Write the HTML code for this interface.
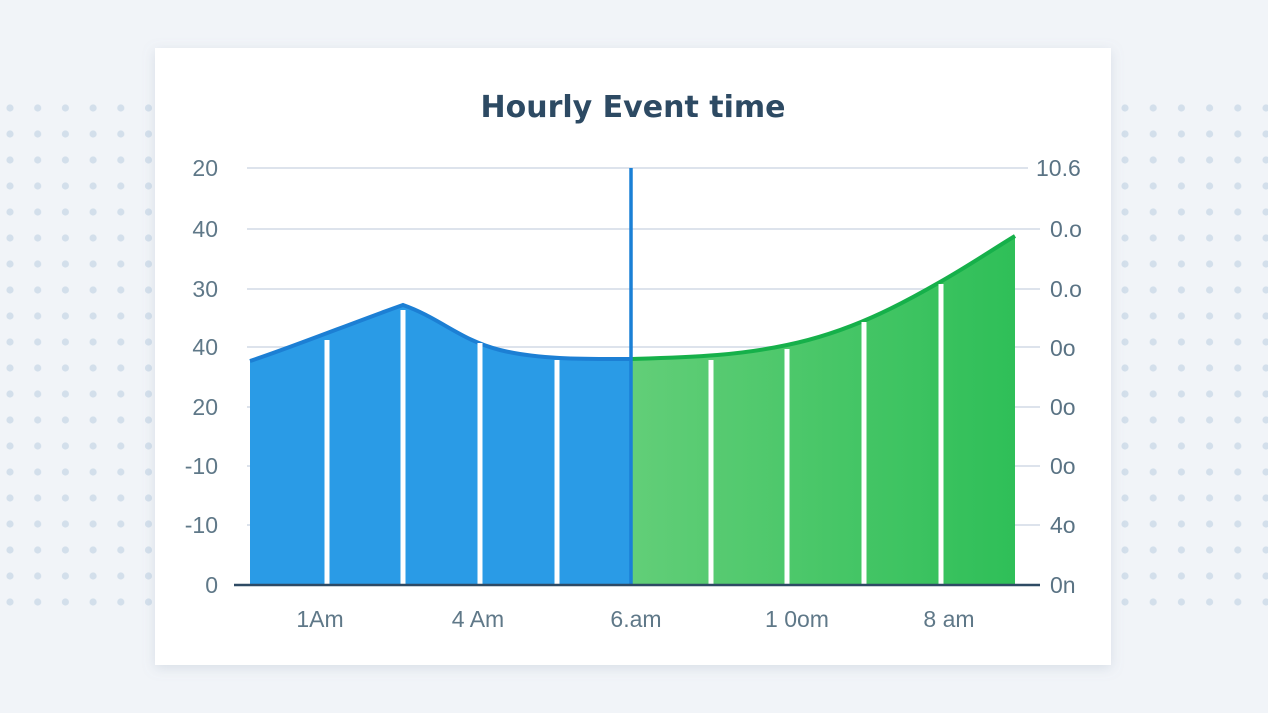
<!DOCTYPE html>
<html><head><meta charset="utf-8"><style>
html,body{margin:0;padding:0;width:1268px;height:713px;overflow:hidden;background:#f1f4f8;}
</style></head><body>
<svg width="1268" height="713" viewBox="0 0 1268 713" xmlns="http://www.w3.org/2000/svg" font-family="Liberation Sans, sans-serif">
<defs>
<pattern id="dots" x="10" y="108" width="27.7" height="26" patternUnits="userSpaceOnUse">
<circle cx="0" cy="0" r="3.6" fill="#d3dfeb"/><circle cx="27.7" cy="0" r="3.6" fill="#d3dfeb"/>
<circle cx="0" cy="26" r="3.6" fill="#d3dfeb"/><circle cx="27.7" cy="26" r="3.6" fill="#d3dfeb"/>
</pattern>
<pattern id="dots2" x="1125" y="108" width="28.2" height="26" patternUnits="userSpaceOnUse">
<circle cx="0" cy="0" r="3.6" fill="#d3dfeb"/><circle cx="28.2" cy="0" r="3.6" fill="#d3dfeb"/>
<circle cx="0" cy="26" r="3.6" fill="#d3dfeb"/><circle cx="28.2" cy="26" r="3.6" fill="#d3dfeb"/>
</pattern>
<linearGradient id="gg" x1="0" x2="1" y1="0" y2="0"><stop offset="0" stop-color="#62ce78"/><stop offset="1" stop-color="#2fbf58"/></linearGradient>
<filter id="sh" x="-5%" y="-5%" width="110%" height="115%"><feDropShadow dx="0" dy="3" stdDeviation="6" flood-color="#8a9bb0" flood-opacity="0.25"/></filter>
</defs>
<rect x="0" y="100" width="160" height="510" fill="url(#dots)"/>
<rect x="1115" y="100" width="153" height="510" fill="url(#dots2)"/>
<rect x="155" y="48" width="956" height="617" fill="#fff" filter="url(#sh)"/>
<text x="633" y="117" text-anchor="middle" font-size="30" font-weight="bold" fill="#2d4a63" font-family="DejaVu Sans, sans-serif">Hourly Event time</text>
<g stroke="#dde3ec" stroke-width="2">
<line x1="247" y1="168" x2="1028" y2="168"/><line x1="247" y1="229" x2="1040" y2="229"/>
<line x1="247" y1="289" x2="1040" y2="289"/><line x1="247" y1="347" x2="1040" y2="347"/>
<line x1="247" y1="407" x2="1040" y2="407"/><line x1="247" y1="466" x2="1040" y2="466"/>
<line x1="247" y1="525" x2="1040" y2="525"/>
</g>
<path d="M250,361 C290,348 360,320 403,305 C440,318 460,340 500,350 C540,360 590,359 632,359 L632,585 L250,585 Z" fill="#2a9be6"/>
<path d="M250,361 C290,348 360,320 403,305 C440,318 460,340 500,350 C540,360 590,359 632,359" fill="none" stroke="#1c7fd4" stroke-width="4"/>
<path d="M632,359 C700,357 740,355 787,345 C850,332 900,305 940,282 C970,265 995,248 1015,236 L1015,585 L632,585 Z" fill="url(#gg)"/>
<path d="M632,359 C700,357 740,355 787,345 C850,332 900,305 940,282 C970,265 995,248 1015,236" fill="none" stroke="#16b04a" stroke-width="4"/>
<g stroke="#fff" stroke-width="5">
<line x1="327" y1="340" x2="327" y2="585"/><line x1="403" y1="310" x2="403" y2="585"/>
<line x1="480" y1="343" x2="480" y2="585"/><line x1="557" y1="360" x2="557" y2="585"/>
<line x1="711" y1="360" x2="711" y2="585"/><line x1="787" y1="349" x2="787" y2="585"/>
<line x1="864" y1="322" x2="864" y2="585"/><line x1="941" y1="284" x2="941" y2="585"/>
</g>
<line x1="631" y1="168" x2="631" y2="585" stroke="#1a80d6" stroke-width="3.5"/>
<line x1="234" y1="585" x2="1040" y2="585" stroke="#2e4a64" stroke-width="2.5"/>
<g font-size="23" fill="#5f7888" text-anchor="end">
<text x="218" y="176">20</text><text x="218" y="237">40</text><text x="218" y="297">30</text>
<text x="218" y="355">40</text><text x="218" y="415">20</text><text x="218" y="474">-10</text>
<text x="218" y="533">-10</text><text x="218" y="593">0</text>
</g>
<g font-size="23" fill="#5a7384">
<text x="1036" y="176">10.6</text><text x="1050" y="237">0.o</text><text x="1050" y="297">0.o</text>
<text x="1050" y="356">0o</text><text x="1050" y="415">0o</text><text x="1050" y="474">0o</text>
<text x="1050" y="533">4o</text><text x="1050" y="593">0n</text>
</g>
<g font-size="23" fill="#5f7888" text-anchor="middle">
<text x="320" y="627">1Am</text><text x="478" y="627">4 Am</text><text x="636" y="627">6.am</text>
<text x="797" y="627">1 0om</text><text x="949" y="627">8 am</text>
</g>
</svg>
</body></html>
